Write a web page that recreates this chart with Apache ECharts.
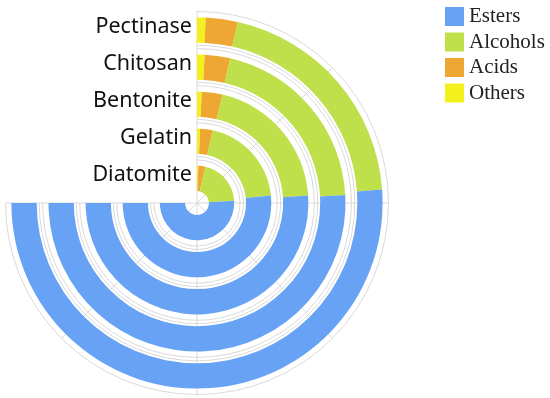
<!DOCTYPE html>
<html>
<head>
<meta charset="utf-8">
<script src="https://cdn.jsdelivr.net/npm/echarts@6/dist/echarts.min.js"></script>
<style>
html, body { margin: 0; padding: 0; background: #fff; }
#chart { width: 550px; height: 398px; }
</style>
</head>
<body>
<div id="chart"></div>
<script>
// categories, inner ring first
var agents = ['Diatomite', 'Gelatin', 'Bentonite', 'Chitosan', 'Pectinase'];
// share of volatile compounds (%)
var esters = [68.0, 68.8, 68.1, 67.8, 68.2];
var alcohols = [27.2, 26.7, 27.0, 27.4, 27.1];
var acids = [4.0, 3.6, 4.0, 3.7, 3.7];
var others = [0.8, 0.9, 0.9, 1.1, 1.0];
var legendNames = ['Esters', 'Alcohols', 'Acids', 'Others'];

var gridGray = '#d9d9d9';
var center = [197, 203];

var myChart = echarts.init(document.getElementById('chart'));

function ring(name, data, color) {
  return {
    name: name,
    type: 'bar',
    coordinateSystem: 'polar',
    polarIndex: 0,
    stack: 'total',
    barWidth: 25.3,
    itemStyle: { color: color },
    emphasis: { disabled: true },
    data: data
  };
}

// hidden angle axis for the helper polars
function blankAngle(idx) {
  return {
    polarIndex: idx,
    type: 'value',
    min: 0,
    max: 270,
    startAngle: 90,
    endAngle: -180,
    axisLine: { show: false },
    axisTick: { show: false },
    axisLabel: { show: false },
    splitLine: { show: false }
  };
}

// arcs only, one per tick
function arcAxis(idx, min, max) {
  return {
    polarIndex: idx,
    type: 'value',
    min: min,
    max: max,
    interval: 1,
    axisLine: { show: false },
    axisTick: { show: false },
    axisLabel: { show: false },
    splitLine: { show: true, lineStyle: { color: gridGray, width: 1 } }
  };
}

var option = {
  animation: false,
  legend: {
    orient: 'vertical',
    left: 445,
    top: 6,
    padding: 0,
    itemWidth: 19,
    itemHeight: 19,
    itemGap: 4.5,
    icon: 'rect',
    data: legendNames,
    textStyle: {
      fontFamily: 'Liberation Serif',
      fontSize: 21,
      lineHeight: 19,
      color: '#222'
    }
  },
  polar: [
    { center: center, radius: [6, 191.5] },     // bars
    { center: center, radius: [43.1, 191.5] },  // band boundary arcs
    { center: center, radius: [46.5, 157.8] },  // second arc in each gap
    { center: center, radius: [0, 191.5] }      // spokes
  ],
  angleAxis: [
    {
      polarIndex: 0,
      type: 'value',
      min: 0,
      max: 100,
      startAngle: 90,
      endAngle: -180,
      clockwise: true,
      axisLine: { show: false },
      axisTick: { show: false },
      axisLabel: { show: false },
      splitLine: { show: false }
    },
    blankAngle(1),
    blankAngle(2),
    {
      polarIndex: 3,
      type: 'value',
      min: 0,
      max: 270,
      interval: 45,
      startAngle: 90,
      endAngle: -180,
      axisLine: { show: false },
      axisTick: { show: false },
      axisLabel: { show: false },
      splitLine: { show: true, lineStyle: { color: gridGray, width: 1 } }
    }
  ],
  radiusAxis: [
    {
      polarIndex: 0,
      type: 'category',
      data: agents,
      axisLine: { show: false },
      axisTick: { show: false },
      axisLabel: {
        interval: 0,
        fontFamily: 'Noto Sans',
        fontSize: 21.5,
        color: '#111',
        margin: 5,
        verticalAlign: 'bottom',
        lineHeight: 7
      },
      splitLine: { show: false },
      z: 5
    },
    arcAxis(1, 1, 5),
    arcAxis(2, 1, 4),
    {
      polarIndex: 3,
      type: 'value',
      show: false
    }
  ],
  series: [
    ring('Others', others, '#f4f01e'),
    ring('Acids', acids, '#eda732'),
    ring('Alcohols', alcohols, '#bfe04a'),
    ring('Esters', esters, '#67a2f5')
  ]
};

myChart.setOption(option);
</script>
</body>
</html>
